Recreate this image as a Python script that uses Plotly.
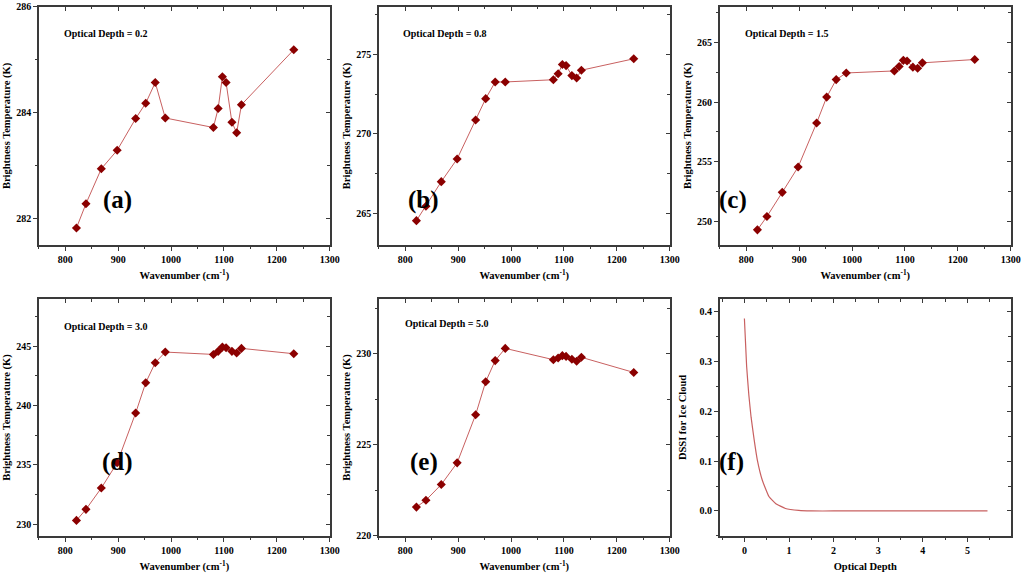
# ========= 0. Import Libraries =========
import plotly.graph_objects as go

# ========= 1. Data =========
# Channel wavenumbers (cm-1), shared by panels (a)-(e)
wavenumber = [821, 839, 868, 898, 933, 952, 970, 989,
              1080, 1089, 1097, 1104, 1115, 1124, 1133, 1232]

# Brightness temperature (K) for each optical depth
bt_od_02 = [281.82, 282.28, 282.94, 283.29, 283.89, 284.18, 284.57, 283.90,
            283.72, 284.08, 284.68, 284.57, 283.82, 283.62, 284.15, 285.19]
bt_od_08 = [264.53, 265.44, 266.99, 268.42, 270.87, 272.22, 273.27, 273.27,
            273.41, 273.79, 274.37, 274.30, 273.67, 273.52, 274.01, 274.73]
bt_od_15 = [249.27, 250.39, 252.42, 254.55, 258.25, 260.42, 261.89, 262.45,
            262.62, 262.99, 263.51, 263.45, 262.94, 262.85, 263.30, 263.58]
bt_od_30 = [230.31, 231.24, 233.04, 235.17, 239.38, 241.93, 243.62, 244.52,
            244.32, 244.58, 244.94, 244.89, 244.58, 244.44, 244.83, 244.38]
bt_od_50 = [221.58, 221.96, 222.82, 224.01, 226.65, 228.46, 229.62, 230.29,
            229.67, 229.76, 229.89, 229.85, 229.69, 229.58, 229.80, 228.97]

# Panel (f): DSSI for ice cloud vs optical depth
optical_depth = [0, 0.05, 0.1, 0.15, 0.22, 0.29, 0.4, 0.55, 0.7,
                 0.92, 1.22, 1.5, 2, 3, 4, 5, 5.45]
dssi_ice = [0.386, 0.29, 0.232, 0.188, 0.142, 0.102, 0.062, 0.029, 0.015,
            0.005, 0.001, 0, 0, 0, 0, 0, 0]

od_labels = ["0.2", "0.8", "1.5", "3.0", "5.0"]
panel_labels = ["(a)", "(b)", "(c)", "(d)", "(e)", "(f)"]

# ========= 2. Styling =========
FONT = "Liberation Serif"
AXIS_COLOR = "#3a3a3a"
MARKER_COLOR = "#8b0000"
LINE_COLOR = "#c86060"

# Plot-area domains for the 2x3 grid (paper coordinates)
x_domains = [[0.038, 0.322], [0.370, 0.654], [0.703, 0.987]]
y_domains = [[0.574, 0.988], [0.068, 0.480]]

# Per-panel y ranges and tick spacing
y_ranges = [[281.5, 286], [263, 278], [248, 268], [229, 249], [220, 233], [-0.05, 0.425]]
y_dticks = [2, 5, 5, 5, 5, 0.1]
y_minor = [1, 2.5, 2.5, 2.5, 2.5, 0.05]

# positions of the panel letters and "Optical Depth" text inside each plot (axis-domain units)
letter_pos = [(0.27, 0.19), (0.155, 0.19), (0.045, 0.19), (0.27, 0.31), (0.155, 0.31), (0.041, 0.31)]
od_text_pos = [(0.079, 0.887), (0.076, 0.887), (0.079, 0.887), (0.079, 0.882), (0.082, 0.895)]

fig = go.Figure()

# ========= 3. Traces =========
bt_series = [bt_od_02, bt_od_08, bt_od_15, bt_od_30, bt_od_50]
for i, bt in enumerate(bt_series):
    n = i + 1
    fig.add_trace(go.Scatter(
        x=wavenumber, y=bt,
        mode="lines+markers",
        line=dict(color=LINE_COLOR, width=1),
        marker=dict(symbol="diamond", size=7, color=MARKER_COLOR),
        xaxis="x" if n == 1 else f"x{n}",
        yaxis="y" if n == 1 else f"y{n}",
        showlegend=False,
    ))

fig.add_trace(go.Scatter(
    x=optical_depth, y=dssi_ice,
    mode="lines",
    line=dict(color=LINE_COLOR, width=1.2, shape="spline", smoothing=0.4),
    xaxis="x6", yaxis="y6",
    showlegend=False,
))

# ========= 4. Axes =========
tick_font = dict(family=FONT, size=10, color="black", weight="bold")
title_font = dict(family=FONT, size=10.5, color="black", weight="bold")

layout = {}
annotations = []
for k in range(6):
    n = k + 1
    row, col = divmod(k, 3)
    xid = "x" if n == 1 else f"x{n}"
    yid = "y" if n == 1 else f"y{n}"

    if n == 6:
        x_range, x_dtick, x_minor = [-0.55, 5.97], 1, 0.5
        x_title = "Optical Depth"
        y_title = "DSSI for Ice Cloud"
        y_fmt = ".1f"
        y_standoff = 11
    else:
        x_range, x_dtick, x_minor = [750, 1300], 100, 50
        x_title = "Wavenumber (cm<sup>-1</sup>)"
        y_title = "Brightness Temperature (K)"
        y_fmt = ""
        y_standoff = 3

    # main (bottom / left) axes: outward ticks, labels, full box
    layout[f"xaxis{'' if n == 1 else n}"] = dict(
        domain=x_domains[col], anchor=yid, range=x_range, automargin=False,
        dtick=x_dtick, tick0=0, ticks="outside", ticklen=4, tickwidth=1,
        tickcolor=AXIS_COLOR, tickfont=tick_font,
        minor=dict(dtick=x_minor, tick0=0, ticks="outside", ticklen=2.5, tickcolor=AXIS_COLOR),
        showline=True, linecolor=AXIS_COLOR, linewidth=1.5, mirror=True,
        showgrid=False, zeroline=False,
        title=dict(text=x_title, font=title_font, standoff=8),
    )
    layout[f"yaxis{'' if n == 1 else n}"] = dict(
        domain=y_domains[row], anchor=xid, range=y_ranges[k], automargin=False,
        dtick=y_dticks[k], tick0=0, ticks="outside", ticklen=4, tickwidth=1,
        tickcolor=AXIS_COLOR, tickfont=tick_font, tickformat=y_fmt,
        minor=dict(dtick=y_minor[k], tick0=0, ticks="outside", ticklen=2.5, tickcolor=AXIS_COLOR),
        showline=True, linecolor=AXIS_COLOR, linewidth=1.5, mirror=True,
        showgrid=False, zeroline=False,
        title=dict(text=y_title, font=title_font, standoff=y_standoff),
    )

    # overlay (top / right) axes: inward ticks only, like the original
    m = n + 6
    layout[f"xaxis{m}"] = dict(
        overlaying=xid, anchor=yid, side="top", range=x_range, automargin=False,
        dtick=x_dtick, tick0=0, ticks="inside", ticklen=4, tickcolor=AXIS_COLOR,
        minor=dict(dtick=x_minor, tick0=0, ticks="inside", ticklen=2.5, tickcolor=AXIS_COLOR),
        showticklabels=False, showline=False, showgrid=False, zeroline=False,
    )
    layout[f"yaxis{m}"] = dict(
        overlaying=yid, anchor=xid, side="right", range=y_ranges[k], automargin=False,
        dtick=y_dticks[k], tick0=0, ticks="inside", ticklen=4, tickcolor=AXIS_COLOR,
        minor=dict(dtick=y_minor[k], tick0=0, ticks="inside", ticklen=2.5, tickcolor=AXIS_COLOR),
        showticklabels=False, showline=False, showgrid=False, zeroline=False,
    )
    # empty traces so plotly actually draws the overlay axes
    fig.add_trace(go.Scatter(x=[], y=[], xaxis=f"x{m}", yaxis=yid,
                             showlegend=False, hoverinfo="skip"))
    fig.add_trace(go.Scatter(x=[], y=[], xaxis=xid, yaxis=f"y{m}",
                             showlegend=False, hoverinfo="skip"))

    # panel letter
    lx, ly = letter_pos[k]
    annotations.append(dict(
        text=panel_labels[k], xref=f"{xid} domain", yref=f"{yid} domain",
        x=lx, y=ly, xanchor="center", yanchor="middle", showarrow=False,
        font=dict(family=FONT, size=25, color="black", weight="bold"),
    ))
    # optical depth caption
    if n < 6:
        tx, ty = od_text_pos[k]
        annotations.append(dict(
            text=f"Optical Depth = {od_labels[k]}", xref=f"{xid} domain", yref=f"{yid} domain",
            x=tx, y=ty, xanchor="left", yanchor="middle", showarrow=False,
            font=dict(family=FONT, size=10, color="black", weight="bold"),
        ))

# ========= 5. Layout =========
fig.update_layout(
    width=1024, height=575,
    margin=dict(l=0, r=0, t=0, b=0),
    plot_bgcolor="white", paper_bgcolor="white",
    font=dict(family=FONT, color="black"),
    annotations=annotations,
    **layout,
)

# ========= 6. Save =========
# drop the browser's default body margin so the 1024x575 figure fills the window exactly
fig.write_html("out.html", config={"displayModeBar": False},
               post_script="document.body.style.margin='0';")
